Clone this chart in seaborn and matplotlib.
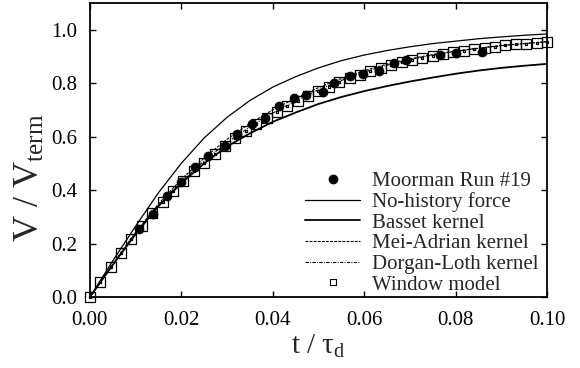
import numpy as np
import matplotlib
matplotlib.use("Agg")
import matplotlib.pyplot as plt
from matplotlib.path import Path
from matplotlib.lines import Line2D
import seaborn as sns

# ---------------- data ----------------
t_curve = [0.000, 0.005, 0.010, 0.015, 0.020, 0.025, 0.030, 0.035, 0.040, 0.045,
           0.050, 0.055, 0.060, 0.065, 0.070, 0.075, 0.080, 0.085, 0.090, 0.095, 0.100]
v_no_history = [0.000, 0.135, 0.265, 0.390, 0.500, 0.595, 0.672, 0.735, 0.785, 0.824,
                0.857, 0.884, 0.905, 0.922, 0.936, 0.948, 0.957, 0.966, 0.973, 0.979, 0.984]
v_basset = [0.000, 0.120, 0.235, 0.340, 0.425, 0.500, 0.563, 0.612, 0.655, 0.690,
            0.722, 0.748, 0.770, 0.789, 0.806, 0.821, 0.835, 0.847, 0.857, 0.865, 0.872]
v_mei_adrian = [0.000, 0.123, 0.242, 0.348, 0.440, 0.520, 0.590, 0.649, 0.700, 0.744,
                0.783, 0.817, 0.847, 0.871, 0.891, 0.907, 0.920, 0.931, 0.941, 0.948, 0.955]
v_dorgan_loth = [0.000, 0.122, 0.240, 0.344, 0.432, 0.510, 0.578, 0.636, 0.688, 0.734,
                 0.775, 0.810, 0.841, 0.867, 0.888, 0.905, 0.919, 0.930, 0.940, 0.948, 0.955]

t_window = [0.00000, 0.00227, 0.00455, 0.00682, 0.00909, 0.01136, 0.01364, 0.01591, 0.01818,
            0.02045, 0.02273, 0.02500, 0.02727, 0.02955, 0.03182, 0.03409, 0.03636, 0.03864,
            0.04091, 0.04318, 0.04545, 0.04773, 0.05000, 0.05227, 0.05455, 0.05682, 0.05909,
            0.06136, 0.06364, 0.06591, 0.06818, 0.07045, 0.07273, 0.07500, 0.07727, 0.07955,
            0.08182, 0.08409, 0.08636, 0.08864, 0.09091, 0.09318, 0.09545, 0.09773, 0.10000]
v_window = [0.000, 0.055, 0.111, 0.166, 0.218, 0.267, 0.313, 0.356, 0.396, 0.434, 0.470,
            0.503, 0.535, 0.565, 0.594, 0.621, 0.646, 0.670, 0.692, 0.713, 0.733, 0.752,
            0.770, 0.787, 0.803, 0.818, 0.832, 0.845, 0.857, 0.868, 0.878, 0.887, 0.895,
            0.903, 0.910, 0.916, 0.922, 0.927, 0.932, 0.937, 0.941, 0.945, 0.948, 0.951, 0.954]

t_moorman = [0.0107, 0.0139, 0.0168, 0.0199, 0.0230, 0.0259, 0.0295, 0.0322, 0.0354, 0.0383,
             0.0414, 0.0446, 0.0473, 0.0511, 0.0534, 0.0570, 0.0598, 0.0633, 0.0665, 0.0691,
             0.0766, 0.0801, 0.0859]
v_moorman = [0.254, 0.311, 0.377, 0.430, 0.485, 0.526, 0.566, 0.610, 0.647, 0.671,
             0.713, 0.746, 0.754, 0.766, 0.800, 0.826, 0.835, 0.844, 0.876, 0.887,
             0.907, 0.912, 0.918]

x_ticks = [0.00, 0.02, 0.04, 0.06, 0.08, 0.10]
x_ticklabels = ["0.00", "0.02", "0.04", "0.06", "0.08", "0.10"]
y_ticks = [0.0, 0.2, 0.4, 0.6, 0.8, 1.0]
y_ticklabels = ["0.0", "0.2", "0.4", "0.6", "0.8", "1.0"]

labels = ["Moorman Run #19", "No-history force", "Basset kernel",
          "Mei-Adrian kernel", "Dorgan-Loth kernel", "Window model"]

# ---------------- style ----------------
sns.set_style("ticks")
plt.rcParams["font.family"] = ["Liberation Serif", "DejaVu Serif"]
plt.rcParams["mathtext.fontset"] = "custom"
plt.rcParams["mathtext.rm"] = "Liberation Serif"
plt.rcParams["mathtext.it"] = "Liberation Serif:italic"

fig = plt.figure(figsize=(5.8, 3.68), dpi=100)
ax = fig.add_axes([0.155, 0.193, 0.788, 0.799])

# square with a centre dot marker
sq = [(-1, -1), (1, -1), (1, 1), (-1, 1), (-1, -1)]
dot = [(-0.12, -0.12), (0.12, -0.12), (0.12, 0.12), (-0.12, 0.12), (-0.12, -0.12)]
codes = [Path.MOVETO, Path.LINETO, Path.LINETO, Path.LINETO, Path.CLOSEPOLY]
sq_marker = Path(sq + dot, codes + codes)

sns.lineplot(x=t_curve, y=v_no_history, ax=ax, color="black", lw=0.9, sort=False)
sns.lineplot(x=t_curve, y=v_basset, ax=ax, color="black", lw=1.3, sort=False)
sns.lineplot(x=t_curve, y=v_mei_adrian, ax=ax, color="black", lw=0.8,
             linestyle=(0, (2.5, 1.2)), sort=False)
sns.lineplot(x=t_curve, y=v_dorgan_loth, ax=ax, color="black", lw=0.8,
             linestyle=(0, (3, 1.2, 0.8, 1.2)), sort=False)
sns.lineplot(x=t_window, y=v_window, ax=ax, color="black", linestyle="none",
             marker=sq_marker, markersize=7.5, markerfacecolor="none",
             markeredgecolor="black", markeredgewidth=0.9, sort=False, clip_on=False)
sns.scatterplot(x=t_moorman, y=v_moorman, ax=ax, color="black", s=42,
                edgecolor="black", linewidth=0.5, zorder=5)

ax.set_xlim(0.0, 0.1)
ax.set_ylim(0.0, 1.1)
ax.set_xticks(x_ticks)
ax.set_xticklabels(x_ticklabels)
ax.set_yticks(y_ticks)
ax.set_yticklabels(y_ticklabels)
ax.tick_params(direction="in", length=4, width=1, top=True, right=True,
               labelsize=15, colors="black")
ax.tick_params(axis="x", pad=10)
ax.tick_params(axis="y", pad=9)
for s in ax.spines.values():
    s.set_linewidth(1.3)
    s.set_color("black")

ax.set_xlabel("t / τ$_{\\rm d}$", fontsize=21, labelpad=2)
ax.set_ylabel("V / V$_{\\rm term}$", fontsize=26)
ax.yaxis.set_label_coords(-0.095, 0.405)

handles = [
    Line2D([], [], color="black", marker="o", linestyle="none", markersize=6),
    Line2D([], [], color="black", lw=0.9),
    Line2D([], [], color="black", lw=1.3),
    Line2D([], [], color="black", lw=0.8, linestyle=(0, (2.5, 1.2))),
    Line2D([], [], color="black", lw=0.8, linestyle=(0, (3, 1.2, 0.8, 1.2))),
    Line2D([], [], color="black", linestyle="none", marker=sq_marker, markersize=5,
           markerfacecolor="none", markeredgewidth=0.8),
]
ax.legend(handles, labels, loc="lower right", bbox_to_anchor=(1.0, -0.02),
          frameon=False, fontsize=15, handlelength=2.6, handletextpad=0.6,
          labelspacing=0.05, borderaxespad=0.0)

fig.savefig("out.png", dpi=100)
